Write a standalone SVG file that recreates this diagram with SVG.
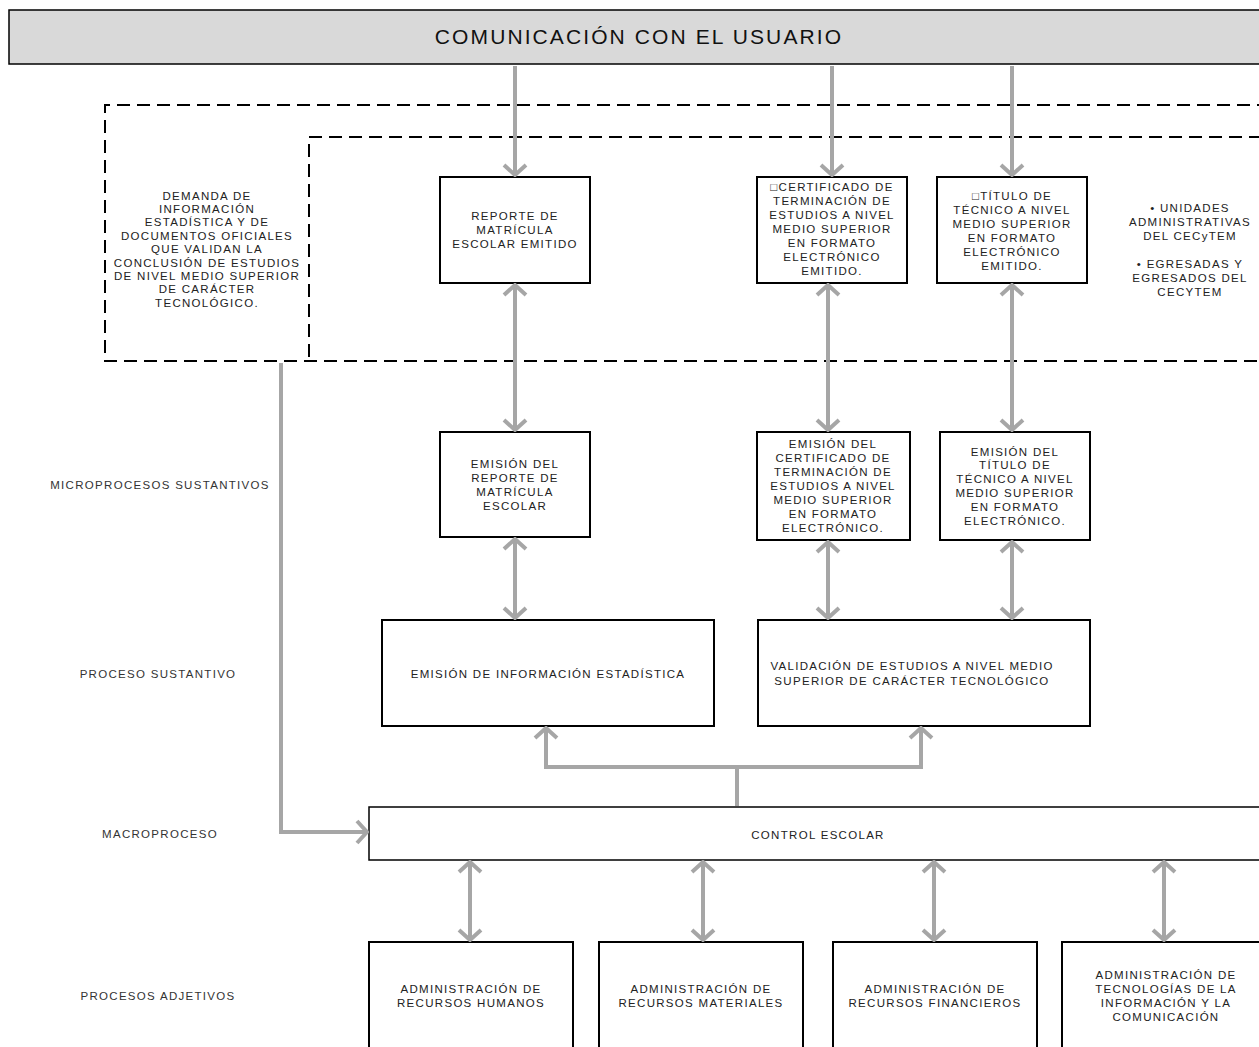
<svg xmlns="http://www.w3.org/2000/svg" width="1259" height="1047" viewBox="0 0 1259 1047">
<style>
.t{font-family:"Liberation Sans",Arial,sans-serif;font-size:11.5px;letter-spacing:1.3px;fill:#222;text-anchor:middle}
.lbl{font-family:"Liberation Sans",Arial,sans-serif;font-size:11.5px;letter-spacing:1.3px;fill:#333;text-anchor:middle}
.box{fill:#fff;stroke:#000;stroke-width:2}
.dash{fill:none;stroke:#000;stroke-width:2;stroke-dasharray:13 7}
.c{fill:none;stroke:#a6a6a6;stroke-width:4}
</style>
<defs>
<marker id="ah" viewBox="-14 -14 16 28" refX="0" refY="0" markerWidth="16" markerHeight="28" markerUnits="userSpaceOnUse" orient="auto-start-reverse">
<path d="M-10,-11 L0,0 L-10,11" fill="none" stroke="#a6a6a6" stroke-width="4"/>
</marker>
</defs>
<rect width="1259" height="1047" fill="#fff"/>

<g id="top">
<rect x="9" y="10" width="1262" height="54" fill="#d9d9d9" stroke="#000" stroke-width="1.5"/>
<text x="639" y="44" font-family="Liberation Sans,Arial,sans-serif" font-size="21" letter-spacing="2.1" text-anchor="middle" fill="#111">COMUNICACIÓN CON EL USUARIO</text>
</g>

<g id="demanda">
<path class="dash" d="M1290,105 L105,105 L105,361 L1290,361"/>
<text class="t"><tspan x="207" y="200">DEMANDA DE</tspan><tspan x="207" y="213">INFORMACIÓN</tspan><tspan x="207" y="226">ESTADÍSTICA Y DE</tspan><tspan x="207" y="240">DOCUMENTOS OFICIALES</tspan><tspan x="207" y="253">QUE VALIDAN LA</tspan><tspan x="207" y="267">CONCLUSIÓN DE ESTUDIOS</tspan><tspan x="207" y="280">DE NIVEL MEDIO SUPERIOR</tspan><tspan x="207" y="293">DE CARÁCTER</tspan><tspan x="207" y="307">TECNOLÓGICO.</tspan></text>
</g>
<g id="usuarios">
<path class="dash" d="M309,357 L309,137 L1290,137"/>
<text class="t"><tspan x="1190" y="212">• UNIDADES</tspan><tspan x="1190" y="226">ADMINISTRATIVAS</tspan><tspan x="1190" y="240">DEL CECyTEM</tspan><tspan x="1190" y="268">• EGRESADAS Y</tspan><tspan x="1190" y="282">EGRESADOS DEL</tspan><tspan x="1190" y="296">CECYTEM</tspan></text>
</g>

<g id="reporte-emitido">
<rect class="box" x="440" y="177" width="150" height="106"/>
<text class="t"><tspan x="515" y="220">REPORTE DE</tspan><tspan x="515" y="234">MATRÍCULA</tspan><tspan x="515" y="248">ESCOLAR EMITIDO</tspan></text>
</g>
<g id="certificado-emitido">
<rect class="box" x="757" y="177" width="150" height="106"/>
<text class="t"><tspan x="832" y="191">□CERTIFICADO DE</tspan><tspan x="832" y="205">TERMINACIÓN DE</tspan><tspan x="832" y="219">ESTUDIOS A NIVEL</tspan><tspan x="832" y="233">MEDIO SUPERIOR</tspan><tspan x="832" y="247">EN FORMATO</tspan><tspan x="832" y="261">ELECTRÓNICO</tspan><tspan x="832" y="275">EMITIDO.</tspan></text>
</g>
<g id="titulo-emitido">
<rect class="box" x="937" y="177" width="150" height="106"/>
<text class="t"><tspan x="1012" y="200">□TÍTULO DE</tspan><tspan x="1012" y="214">TÉCNICO A NIVEL</tspan><tspan x="1012" y="228">MEDIO SUPERIOR</tspan><tspan x="1012" y="242">EN FORMATO</tspan><tspan x="1012" y="256">ELECTRÓNICO</tspan><tspan x="1012" y="270">EMITIDO.</tspan></text>
</g>

<g id="emision-reporte">
<rect class="box" x="440" y="432" width="150" height="105"/>
<text class="t"><tspan x="515" y="468">EMISIÓN DEL</tspan><tspan x="515" y="482">REPORTE DE</tspan><tspan x="515" y="496">MATRÍCULA</tspan><tspan x="515" y="510">ESCOLAR</tspan></text>
</g>
<g id="emision-certificado">
<rect class="box" x="757" y="432" width="153" height="108"/>
<text class="t"><tspan x="833" y="448">EMISIÓN DEL</tspan><tspan x="833" y="462">CERTIFICADO DE</tspan><tspan x="833" y="476">TERMINACIÓN DE</tspan><tspan x="833" y="490">ESTUDIOS A NIVEL</tspan><tspan x="833" y="504">MEDIO SUPERIOR</tspan><tspan x="833" y="518">EN FORMATO</tspan><tspan x="833" y="532">ELECTRÓNICO.</tspan></text>
</g>
<g id="emision-titulo">
<rect class="box" x="940" y="432" width="150" height="108"/>
<text class="t"><tspan x="1015" y="456">EMISIÓN DEL</tspan><tspan x="1015" y="469">TÍTULO DE</tspan><tspan x="1015" y="483">TÉCNICO A NIVEL</tspan><tspan x="1015" y="497">MEDIO SUPERIOR</tspan><tspan x="1015" y="511">EN FORMATO</tspan><tspan x="1015" y="525">ELECTRÓNICO.</tspan></text>
</g>

<g id="info-estadistica">
<rect class="box" x="382" y="620" width="332" height="106"/>
<text class="t" x="548" y="678" letter-spacing="1">EMISIÓN DE INFORMACIÓN ESTADÍSTICA</text>
</g>
<g id="validacion">
<rect class="box" x="758" y="620" width="332" height="106"/>
<text class="t" letter-spacing="1"><tspan x="912" y="670">VALIDACIÓN DE ESTUDIOS A NIVEL MEDIO</tspan><tspan x="912" y="685">SUPERIOR DE CARÁCTER TECNOLÓGICO</tspan></text>
</g>

<g id="control-escolar">
<rect x="369" y="807" width="900" height="53" fill="#fff" stroke="#000" stroke-width="1.5"/>
<text class="t" x="818" y="839">CONTROL ESCOLAR</text>
</g>

<g id="rh"><rect class="box" x="369" y="942" width="204" height="120"/>
<text class="t"><tspan x="471" y="993">ADMINISTRACIÓN DE</tspan><tspan x="471" y="1007">RECURSOS HUMANOS</tspan></text></g>
<g id="rm"><rect class="box" x="599" y="942" width="204" height="120"/>
<text class="t"><tspan x="701" y="993">ADMINISTRACIÓN DE</tspan><tspan x="701" y="1007">RECURSOS MATERIALES</tspan></text></g>
<g id="rf"><rect class="box" x="833" y="942" width="204" height="120"/>
<text class="t"><tspan x="935" y="993">ADMINISTRACIÓN DE</tspan><tspan x="935" y="1007">RECURSOS FINANCIEROS</tspan></text></g>
<g id="tic"><rect class="box" x="1062" y="942" width="210" height="120"/>
<text class="t"><tspan x="1166" y="979">ADMINISTRACIÓN DE</tspan><tspan x="1166" y="993">TECNOLOGÍAS DE LA</tspan><tspan x="1166" y="1007">INFORMACIÓN Y LA</tspan><tspan x="1166" y="1021">COMUNICACIÓN</tspan></text></g>

<g id="levels">
<text class="lbl" x="160" y="489">MICROPROCESOS SUSTANTIVOS</text>
<text class="lbl" x="158" y="678">PROCESO SUSTANTIVO</text>
<text class="lbl" x="160" y="838">MACROPROCESO</text>
<text class="lbl" x="158" y="1000">PROCESOS ADJETIVOS</text>
</g>

<g id="connectors">
<line class="c" x1="515" y1="66" x2="515" y2="175" marker-end="url(#ah)"/>
<line class="c" x1="832" y1="66" x2="832" y2="175" marker-end="url(#ah)"/>
<line class="c" x1="1012" y1="66" x2="1012" y2="175" marker-end="url(#ah)"/>
<line class="c" x1="515" y1="285" x2="515" y2="430" marker-start="url(#ah)" marker-end="url(#ah)"/>
<line class="c" x1="828" y1="285" x2="828" y2="430" marker-start="url(#ah)" marker-end="url(#ah)"/>
<line class="c" x1="1012" y1="285" x2="1012" y2="430" marker-start="url(#ah)" marker-end="url(#ah)"/>
<line class="c" x1="515" y1="539" x2="515" y2="618" marker-start="url(#ah)" marker-end="url(#ah)"/>
<line class="c" x1="828" y1="542" x2="828" y2="618" marker-start="url(#ah)" marker-end="url(#ah)"/>
<line class="c" x1="1012" y1="542" x2="1012" y2="618" marker-start="url(#ah)" marker-end="url(#ah)"/>
<polyline class="c" points="546,728 546,767 921,767 921,728" marker-start="url(#ah)" marker-end="url(#ah)"/>
<line class="c" x1="737" y1="806" x2="737" y2="767"/>
<polyline class="c" points="281,363 281,832 367,832" marker-end="url(#ah)"/>
<line class="c" x1="470" y1="862" x2="470" y2="940" marker-start="url(#ah)" marker-end="url(#ah)"/>
<line class="c" x1="703" y1="862" x2="703" y2="940" marker-start="url(#ah)" marker-end="url(#ah)"/>
<line class="c" x1="934" y1="862" x2="934" y2="940" marker-start="url(#ah)" marker-end="url(#ah)"/>
<line class="c" x1="1164" y1="862" x2="1164" y2="940" marker-start="url(#ah)" marker-end="url(#ah)"/>
</g>
</svg>
